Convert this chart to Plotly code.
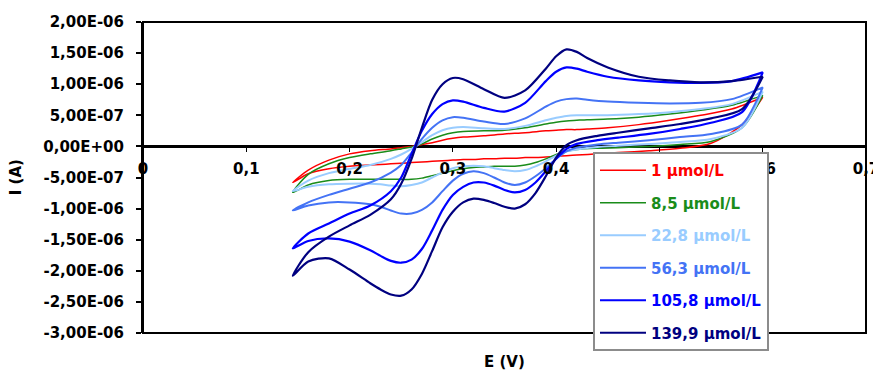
import plotly.graph_objects as go

# Potential grids (V) for forward (anodic) and reverse (cathodic) scans
E_FWD = [0.145, 0.16, 0.18, 0.20, 0.22, 0.24, 0.25, 0.26, 0.27, 0.28, 0.29, 0.30, 0.31, 0.33,
         0.35, 0.37, 0.39, 0.40, 0.41, 0.42, 0.43, 0.45, 0.48, 0.51, 0.54, 0.57, 0.60]
E_REV = [0.60, 0.58, 0.55, 0.52, 0.49, 0.46, 0.44, 0.42, 0.41, 0.40, 0.39, 0.38, 0.37, 0.36,
         0.35, 0.34, 0.33, 0.32, 0.31, 0.30, 0.29, 0.28, 0.27, 0.26, 0.25, 0.24, 0.23, 0.22,
         0.20, 0.18, 0.16, 0.145]

# Currents in microamperes
I_FWD_1 = [-0.58, -0.38, -0.22, -0.12, -0.07, -0.04, -0.02, 0.00, 0.03, 0.06, 0.10, 0.13, 0.15, 0.17,
           0.20, 0.22, 0.25, 0.26, 0.27, 0.27, 0.28, 0.30, 0.35, 0.42, 0.50, 0.60, 0.79]
I_REV_1 = [0.79, 0.35, 0.05, -0.03, -0.07, -0.10, -0.12, -0.14, -0.15, -0.16, -0.17, -0.18, -0.18, -0.19,
           -0.19, -0.20, -0.20, -0.21, -0.21, -0.22, -0.23, -0.24, -0.25, -0.26, -0.27, -0.28, -0.29, -0.30,
           -0.32, -0.36, -0.44, -0.58]

I_FWD_2 = [-0.74, -0.45, -0.28, -0.18, -0.12, -0.07, -0.04, -0.01, 0.04, 0.12, 0.18, 0.22, 0.24, 0.25,
           0.26, 0.30, 0.36, 0.39, 0.41, 0.42, 0.43, 0.44, 0.47, 0.52, 0.58, 0.66, 0.82]
I_REV_2 = [0.82, 0.30, 0.08, 0.03, 0.00, -0.02, -0.03, -0.05, -0.08, -0.13, -0.20, -0.26, -0.30, -0.32,
           -0.32, -0.32, -0.33, -0.34, -0.36, -0.39, -0.43, -0.47, -0.51, -0.53, -0.53, -0.53, -0.53, -0.53,
           -0.53, -0.55, -0.62, -0.74]

I_FWD_3 = [-0.72, -0.55, -0.43, -0.36, -0.30, -0.20, -0.13, -0.04, 0.07, 0.18, 0.26, 0.30, 0.31, 0.29,
           0.28, 0.33, 0.42, 0.46, 0.49, 0.50, 0.50, 0.50, 0.52, 0.55, 0.60, 0.68, 0.88]
I_REV_3 = [0.88, 0.30, 0.12, 0.07, 0.04, 0.01, -0.01, -0.05, -0.08, -0.15, -0.24, -0.32, -0.38, -0.40,
           -0.38, -0.35, -0.32, -0.31, -0.32, -0.35, -0.42, -0.50, -0.58, -0.62, -0.64, -0.63, -0.61, -0.60,
           -0.60, -0.61, -0.65, -0.72]

I_FWD_4 = [-1.03, -0.90, -0.78, -0.68, -0.58, -0.42, -0.30, -0.10, 0.12, 0.30, 0.42, 0.47, 0.46, 0.40,
           0.36, 0.45, 0.64, 0.72, 0.76, 0.77, 0.75, 0.72, 0.70, 0.69, 0.70, 0.76, 0.95]
I_REV_4 = [0.95, 0.35, 0.20, 0.15, 0.10, 0.06, 0.03, -0.02, -0.08, -0.20, -0.35, -0.48, -0.58, -0.62,
           -0.58, -0.50, -0.43, -0.40, -0.44, -0.55, -0.72, -0.90, -1.02, -1.08, -1.08, -1.03, -0.97, -0.93,
           -0.90, -0.90, -0.95, -1.03]

I_FWD_5 = [-1.64, -1.40, -1.24, -1.08, -0.95, -0.72, -0.50, -0.12, 0.25, 0.52, 0.68, 0.74, 0.72, 0.62,
           0.56, 0.70, 1.05, 1.20, 1.27, 1.25, 1.20, 1.12, 1.06, 1.03, 1.02, 1.05, 1.19]
I_REV_5 = [1.19, 0.55, 0.38, 0.28, 0.20, 0.14, 0.10, 0.04, -0.04, -0.20, -0.40, -0.58, -0.70, -0.74,
           -0.70, -0.63, -0.58, -0.58, -0.65, -0.78, -1.02, -1.35, -1.65, -1.82, -1.87, -1.84, -1.76, -1.67,
           -1.53, -1.48, -1.52, -1.64]

I_FWD_6 = [-2.08, -1.70, -1.45, -1.27, -1.10, -0.85, -0.60, -0.20, 0.30, 0.75, 1.00, 1.10, 1.08, 0.92,
           0.78, 0.90, 1.25, 1.45, 1.56, 1.52, 1.42, 1.27, 1.12, 1.06, 1.03, 1.05, 1.12]
I_REV_6 = [1.12, 0.60, 0.45, 0.36, 0.29, 0.22, 0.17, 0.10, 0.02, -0.18, -0.48, -0.75, -0.93, -1.00,
           -0.97, -0.91, -0.86, -0.84, -0.90, -1.05, -1.30, -1.68, -2.05, -2.30, -2.40, -2.38, -2.30, -2.20,
           -1.98, -1.80, -1.85, -2.08]

SERIES_NAMES = ["1 µmol/L", "8,5 µmol/L", "22,8 µmol/L", "56,3 µmol/L", "105,8 µmol/L", "139,9 µmol/L"]
SERIES_FWD = [I_FWD_1, I_FWD_2, I_FWD_3, I_FWD_4, I_FWD_5, I_FWD_6]
SERIES_REV = [I_REV_1, I_REV_2, I_REV_3, I_REV_4, I_REV_5, I_REV_6]
COLORS = ["#FF0000", "#1A8C1A", "#99CCFF", "#4473F5", "#0000FF", "#000080"]
WIDTHS = [1.5, 1.5, 2, 2, 2.2, 2.2]

X_TICKS = [0, 0.1, 0.2, 0.3, 0.4, 0.5, 0.6, 0.7]
X_LABELS = ["0", "0,1", "0,2", "0,3", "0,4", "0,5", "0,6", "0,7"]
Y_TICKS = [2e-6, 1.5e-6, 1e-6, 5e-7, 0, -5e-7, -1e-6, -1.5e-6, -2e-6, -2.5e-6, -3e-6]
Y_LABELS = ["2,00E-06", "1,50E-06", "1,00E-06", "5,00E-07", "0,00E+00", "-5,00E-07",
            "-1,00E-06", "-1,50E-06", "-2,00E-06", "-2,50E-06", "-3,00E-06"]

FONT = "DejaVu Sans"

fig = go.Figure()
for i, name in enumerate(SERIES_NAMES):
    xs = E_FWD + E_REV
    ys = [v * 1e-6 for v in SERIES_FWD[i] + SERIES_REV[i]]
    fig.add_trace(go.Scatter(
        x=xs, y=ys, mode="lines",
        line=dict(color=COLORS[i], width=WIDTHS[i], shape="spline", smoothing=0.8),
        name=f"<span style='color:{COLORS[i]}'>{name}</span>",
        legendgroup=f"g{i}",
    ))

# The page body adds an 8 px offset, so the figure is 8 px smaller with margins shifted.
fig.update_layout(
    width=873, height=364,
    margin=dict(l=135, r=15, t=14, b=39, autoexpand=False),
    paper_bgcolor="white", plot_bgcolor="white",
    font=dict(family=FONT, size=15, color="black", weight="bold"),
    showlegend=True,
    legend=dict(
        x=0.6224, y=0.582, xanchor="left", yanchor="top",
        bgcolor="white", bordercolor="#8C8C8C", borderwidth=2,
        font=dict(family=FONT, size=15, weight="bold"),
        tracegroupgap=10, itemwidth=46,
    ),
    xaxis=dict(
        range=[0, 0.7], anchor="free", position=0.6,
        tickvals=X_TICKS, ticktext=X_LABELS,
        ticks="outside", ticklen=5, tickwidth=1, tickcolor="black",
        showline=False, showgrid=False, zeroline=False,
        ticklabelstandoff=4, automargin=False,
    ),
    yaxis=dict(
        range=[-3e-6, 2e-6],
        tickvals=Y_TICKS, ticktext=Y_LABELS,
        ticks="outside", ticklen=5, tickwidth=1.5, tickcolor="black",
        showline=True, linecolor="black", linewidth=2,
        showgrid=False, zeroline=True, zerolinecolor="black", zerolinewidth=3,
        ticklabelstandoff=9, automargin=False,
    ),
    shapes=[dict(type="rect", xref="paper", yref="paper", x0=0, x1=1, y0=0, y1=1,
                 line=dict(color="black", width=2), layer="above")],
    annotations=[
        dict(text="E (V)", xref="paper", yref="paper", x=0.5, y=-0.093,
             xanchor="center", yanchor="middle", showarrow=False,
             font=dict(family=FONT, size=15, weight="bold")),
        dict(text="I (A)", xref="paper", yref="paper", x=-0.176, y=0.5, textangle=-90,
             xanchor="center", yanchor="middle", showarrow=False,
             font=dict(family=FONT, size=15, weight="bold")),
    ],
)

fig.write_html("out.html")
